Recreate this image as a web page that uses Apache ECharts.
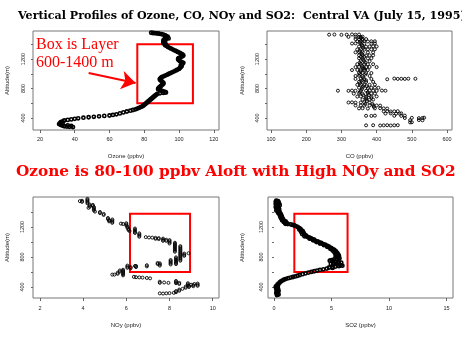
<!DOCTYPE html>
<html>
<head>
<meta charset="utf-8">
<script src="https://cdn.jsdelivr.net/npm/echarts@6/dist/echarts.min.js"></script>
<style>
  html, body { margin: 0; padding: 0; background: #fff; }
  #chart { width: 462px; height: 346px; }
</style>
</head>
<body>
<div id="chart"></div>
<script>
// texts
const mainTitle = 'Vertical Profiles of Ozone, CO, NOy and SO2:  Central VA (July 15, 1995)'
const headline = 'Ozone is 80-100 ppbv Aloft with High NOy and SO2'
const boxNote = 'Box is Layer\n600-1400 m'
const altName = 'Altitude(m)'
const xNames = ['Ozone (ppbv)', 'CO (ppbv)', 'NOy (ppbv)', 'SO2 (ppbv)']

// tick labels
const ozoneTicks = [20, 40, 60, 80, 100, 120]
const coTicks = [100, 200, 300, 400, 500, 600]
const noyTicks = [2, 4, 6, 8, 10]
const so2Ticks = [0, 5, 10, 15]
const altLabels = [400, 800, 1200]
const altTicks = [400, 600, 800, 1000, 1200, 1400]

// [ozone ppbv, altitude m]
const ozoneData = [
  [84,1556],[85,1553],[86,1551],[87,1549],[88,1546],[89,1542],[90,1537],[91,1530],[92,1522],[92.5,1512],
  [93.5,1503],[92,1494],[93,1486],[94,1479],[92.5,1471],[91.5,1463],[91,1454],[91.5,1444],[92,1434],[91,1425],
  [91,1415],[92,1405],[92.5,1395],[92,1385],[93,1375],[93.5,1365],[94.5,1352],[95.5,1340],[96.5,1328],[97.5,1316],
  [98.5,1305],[99.5,1293],[100.5,1282],[101.5,1271],[102,1260],[102.5,1248],[102,1237],[101,1226],[100,1215],[99.5,1204],
  [99.5,1193],[100,1182],[100.5,1171],[101.5,1160],[102.5,1148],[102,1137],[101.5,1126],[101,1114],[101.5,1102],[101,1090],
  [100.5,1078],[100,1066],[99,1054],[98,1042],[97,1030],[96,1019],[95,1008],[94,997],[93,986],[92,975],
  [91,964],[90,953],[89.5,942],[89,931],[89,920],[89.5,909],[90,898],[90.5,887],[91,876],[91,865],
  [90.5,854],[90,843],[89.5,832],[89,821],[88.5,810],[88,799],[88,788],[89,778],[90,770],[91,762],
  [92,754],[92.5,746],[91,740],[89,735],[87.5,728],[87,718],[86.5,708],[86,698],[85.5,688],[85,678],
  [84.5,668],[84,658],[83.5,648],[83,638],[82.5,628],[82,618],[81.5,608],[81,598],[80.5,588],[80,578],
  [79.5,568],[79,558],[78,548],[77,538],[76,528],[75,518],[73.5,508],[72,499],[70,488],[68,476],
  [66,462],[64,450],[62,441],[60,434],[57,428],[54,422],[51,416],[48,410],[45,404],[42,396],
  [40,388],[38,381],[36,374],[34,366],[33,355],[32,343],[31.5,330],[31,318],[32,306],[33,296],
  [34,288],[35.5,283],[37,280],[39,277],[36,300],[38,292],[33,322]
]

// [CO ppbv, altitude m]
const coData = [
  [265,1530],[280,1532],[300,1528],[315,1530],[330,1533],[340,1530],[350,1532],
  [320,1500],[340,1502],[350,1498],[355,1500],[360,1503],
  [340,1470],[350,1468],[360,1472],[370,1470],
  [345,1440],[355,1440],[365,1442],[375,1438],[385,1440],[395,1440],
  [330,1410],[340,1412],[355,1410],[365,1408],[385,1410],[395,1412],
  [350,1370],[360,1372],[370,1368],[380,1370],[390,1372],[400,1370],
  [345,1330],[355,1332],[365,1328],[375,1330],[385,1330],[395,1332],
  [340,1290],[350,1292],[360,1288],[375,1290],[390,1290],
  [350,1250],[360,1252],[370,1248],[380,1250],[390,1250],
  [350,1210],[360,1212],[375,1208],[385,1210],
  [355,1170],[365,1172],[380,1170],
  [345,1130],[355,1132],[365,1128],[375,1130],[390,1130],
  [340,1090],[350,1092],[360,1088],[370,1090],[380,1092],[400,1090],
  [330,1050],[345,1052],[355,1048],[365,1050],[375,1050],
  [350,1010],[360,1012],[370,1008],[385,1010],
  [340,970],[350,972],[360,968],[380,970],
  [340,930],[355,932],[365,928],[385,930],[430,925],[450,935],[460,930],[470,932],[480,930],[490,933],[510,932],
  [350,890],[360,892],[370,888],[390,890],
  [345,850],[355,852],[365,848],[380,850],[395,852],
  [350,810],[360,812],[375,808],[385,810],[395,812],[405,810],
  [290,770],[320,768],[330,772],[340,770],[355,768],[370,770],[380,772],[390,770],[400,768],[415,772],[425,770],
  [335,730],[350,732],[360,728],[375,730],[385,732],[395,730],
  [345,690],[355,692],[370,688],[385,690],[400,692],
  [360,650],[370,652],[380,648],[390,650],
  [320,610],[330,612],[340,608],[355,610],[365,612],[380,610],
  [340,570],[355,572],[365,568],[380,570],[390,572],[400,570],[410,568],
  [350,530],[360,532],[375,528],[395,530],[410,532],[420,530],[430,528],
  [420,490],[430,492],[440,488],[450,490],[460,492],
  [425,460],[440,462],[455,458],[465,460],[470,462],
  [370,430],[385,428],[395,432],[450,430],[470,428],[480,432],
  [480,400],[500,402],[520,398],[530,400],[535,404],
  [495,370],[520,372],[530,368],
  [495,340],[500,342],
  [370,300],[390,302],[410,298],[420,300],[430,302],[440,298],[450,300],[460,302],
  // dense core column
  [355,1485],[360,1455],[352,1425],[358,1390],[362,1350],[352,1310],[358,1270],[355,1230],[362,1190],[352,1150],
  [358,1110],[362,1070],[355,1030],[352,990],[362,950],[358,910],[352,870],[362,830],[358,790],[352,750],
  [362,710],[370,670],[372,630],[368,590],[365,1230],[368,1150],[365,1070],[368,990],[370,910],[372,830],
  [375,750],[378,710],[385,670],[388,590],[392,550]
]

// [NOy ppbv, altitude m]
const noyData = [
  [3.85,1545],[3.95,1550],[3.95,1535],
  [4.2,1575],[4.2,1560],[4.2,1545],[4.2,1530],[4.2,1515],[4.3,1500],[4.3,1485],[4.3,1470],[4.25,1455],
  [4.45,1495],[4.45,1480],[4.5,1465],[4.5,1450],[4.5,1435],[4.5,1420],[4.55,1405],
  [4.78,1400],[4.78,1385],[4.95,1375],[4.95,1360],
  [5.15,1320],[5.15,1305],[5.2,1290],[5.2,1275],[5.35,1300],[5.35,1285],[5.35,1270],[5.35,1255],
  [5.75,1245],[5.85,1240],[6.0,1250],[6.0,1235],[6.0,1220],[6.05,1205],[6.05,1190],[6.1,1175],[6.1,1160],[6.15,1145],
  [6.4,1180],[6.4,1165],[6.4,1150],[6.4,1135],[6.4,1120],
  [6.6,1115],[6.6,1100],[6.6,1085],[6.6,1070],
  [6.9,1065],[7.05,1060],[7.2,1058],[7.35,1055],[7.35,1042],[7.5,1052],[7.5,1038],
  [7.7,1045],[7.7,1030],[7.7,1015],[7.85,1030],[7.85,1015],[8.0,1025],[8.0,1010],[8.0,995],[8.0,980],
  [8.25,990],[8.25,975],[8.25,960],[8.25,945],[8.25,930],[8.25,915],[8.25,900],[8.25,885],[8.25,870],
  [8.5,945],[8.5,930],[8.5,915],[8.5,900],[8.5,885],[8.5,870],[8.5,855],[8.5,840],[8.5,825],
  [8.5,810],[8.5,795],[8.5,780],[8.5,765],[8.5,750],
  [8.68,845],[8.68,830],[8.68,815],[8.88,850],
  [8.3,795],[8.3,780],[8.3,765],[8.3,750],[8.3,735],[8.3,720],[8.3,705],
  [8.05,760],[8.05,745],[8.05,730],[8.05,715],[8.05,700],
  [7.45,720],[7.45,705],[7.55,715],[7.55,700],[7.55,685],
  [6.95,690],[6.95,675],
  [6.4,680],[6.45,680],[6.45,665],
  [6.05,685],[6.05,670],[6.05,655],[6.2,665],[6.2,650],
  [5.85,630],[5.85,615],[5.85,600],[5.85,585],[5.85,570],[5.85,555],[5.7,620],[5.7,605],[5.6,590],[5.6,575],
  [5.45,565],[5.35,565],
  [6.35,535],[6.45,530],[6.6,528],[6.75,525],[6.95,520],[7.1,515],
  [7.55,470],[7.55,455],[7.75,460],[7.95,455],
  [8.3,480],[8.3,465],[8.3,450],[8.45,455],[8.45,440],
  [8.85,450],[8.85,435],[8.85,420],[9.0,430],[9.15,440],[9.3,445],[9.3,430],
  [7.55,315],[7.7,312],[7.85,315],[8.0,318],[8.2,322],[8.3,330],[8.3,345],[8.45,350],[8.45,365],
  [8.6,375],[8.75,390],[8.75,405],[8.9,415],[8.9,400],[9.1,425],[9.1,410],[9.3,415]
]

// [SO2 ppbv, altitude m]
const so2Data = [
  [0.2,1550],[0.35,1545],[0.15,1535],[0.4,1530],[0.25,1520],[0.45,1512],[0.15,1505],[0.3,1498],[0.5,1490],[0.2,1482],
  [0.35,1474],[0.15,1465],[0.4,1458],[0.25,1450],[0.45,1440],[0.3,1430],[0.2,1420],[0.4,1410],[0.5,1400],[0.35,1390],
  [0.45,1380],[0.6,1370],[0.5,1360],[0.65,1350],[0.55,1340],[0.7,1330],[0.6,1320],[0.75,1310],[0.8,1300],[0.7,1290],
  [0.9,1282],[1.0,1275],[0.85,1268],[1.05,1262],[0.95,1255],[1.1,1250],[1.0,1243],[1.2,1240],
  [1.45,1235],[1.6,1228],[1.75,1222],[1.85,1215],[2.0,1205],[2.1,1195],[2.2,1185],[2.3,1175],[2.2,1165],[2.4,1155],
  [2.5,1145],[2.35,1135],[2.55,1125],[2.6,1115],[2.45,1105],[2.7,1095],[2.8,1085],[2.65,1075],[2.9,1068],[3.05,1060],
  [3.2,1052],[3.1,1044],[3.35,1038],[3.5,1030],[3.4,1022],[3.6,1015],[3.8,1008],[3.7,1000],[3.95,994],[4.1,987],
  [4.0,980],[4.25,973],[4.45,966],[4.35,958],[4.6,950],[4.75,942],[4.65,934],[4.9,926],[5.0,918],[4.9,910],
  [5.15,902],[5.25,894],[5.1,886],[5.35,878],[5.4,870],[5.25,862],[5.5,854],[5.5,846],[5.35,838],[5.6,830],
  [5.45,822],[5.65,814],[5.5,806],[5.35,798],[5.6,790],[5.7,782],[5.45,774],[5.2,766],[5.0,758],[4.85,750],
  [5.1,744],[5.4,738],[5.65,732],[5.85,726],[5.55,720],[5.25,714],[4.95,708],[5.15,702],[5.5,696],[5.8,690],
  [5.95,684],[5.65,678],[5.35,672],[5.05,666],[4.8,660],[5.1,654],[4.6,645],[4.3,636],[4.0,627],[3.75,619],
  [3.5,610],[3.25,601],[3.0,592],[2.75,582],[2.5,571],[2.25,560],[2.05,550],[1.85,541],[1.65,533],[1.45,525],
  [1.25,517],[1.05,509],[0.9,500],[0.75,488],[0.6,474],[0.5,460],[0.4,445],[0.3,430],[0.35,420],[0.2,410],
  [0.15,400],[0.25,390],[0.35,380],[0.2,370],[0.3,360],[0.4,350],[0.25,340],[0.35,330],[0.2,320],[0.3,310],
  [0.4,300],[0.25,292]
]

// red layer boxes [xmin, xmax, altTop, altBottom]
const ozoneBox = [76, 108, 1400, 600]
const noyBox = [6.17, 8.95, 1375, 600]
const so2Box = [1.77, 6.4, 1375, 600]
// arrow from note to ozone box [ozone, alt]
const arrowFrom = [48, 1010]
const arrowTo = [75, 875]

const chart = echarts.init(document.getElementById('chart'))

const tickFont = { fontSize: 5.5, color: '#222', fontFamily: 'Liberation Sans' }
const nameFont = { fontSize: 6, color: '#222', fontFamily: 'Liberation Sans' }
const plain = v => String(v)

function xAxisOf(i, name, min, max, ticks, gap, margin) {
  return {
    gridIndex: i, type: 'value', min, max, name, nameLocation: 'middle', nameGap: gap,
    nameTextStyle: nameFont,
    axisLine: { show: false },
    splitLine: { show: false },
    axisTick: { show: true, length: 3, lineStyle: { color: '#666' }, customValues: ticks },
    axisLabel: { ...tickFont, margin, customValues: ticks, formatter: plain }
  }
}

function yAxisOf(i, min, max, gap, margin) {
  return {
    gridIndex: i, type: 'value', min, max, name: altName, nameLocation: 'middle', nameGap: gap,
    nameTextStyle: nameFont,
    axisLine: { show: false },
    splitLine: { show: false },
    axisTick: { show: true, length: 2, lineStyle: { color: '#666' }, customValues: altTicks },
    axisLabel: { ...tickFont, rotate: 90, margin, customValues: altLabels, formatter: plain }
  }
}

function boxArea(b) {
  return {
    silent: true,
    itemStyle: { color: 'rgba(0,0,0,0)', borderColor: '#ff0000', borderWidth: 2 },
    data: [[{ coord: [b[0], b[2]] }, { coord: [b[1], b[3]] }]]
  }
}

// thick traces (ozone, so2) vs. sparse "o" points (co, noy)
const trace = {
  type: 'scatter', symbol: 'circle', symbolSize: 3.2, silent: true,
  itemStyle: { color: 'rgba(0,0,0,0)', borderColor: '#000', borderWidth: 1.6, opacity: 1 }
}
const dots = {
  type: 'scatter', symbol: 'circle', symbolSize: 3, silent: true,
  itemStyle: { color: 'rgba(0,0,0,0)', borderColor: '#000', borderWidth: 0.9, opacity: 1 }
}

const gridStyle = { show: true, borderColor: '#777', borderWidth: 1, backgroundColor: 'transparent' }

const option = {
  animation: false,
  title: [
    { text: mainTitle, left: 18, top: 11, padding: 0,
      textStyle: { fontFamily: 'DejaVu Serif', fontWeight: 'bold', fontSize: 11.1, color: '#000' } },
    { text: headline, left: 16, top: 165, padding: 0,
      textStyle: { fontFamily: 'DejaVu Serif', fontWeight: 'bold', fontSize: 15.3, color: '#ff0000' } },
    { text: boxNote, left: 36, top: 36, padding: 0,
      textStyle: { fontFamily: 'Liberation Serif', fontWeight: 'normal', fontSize: 16, lineHeight: 18, color: '#ff0000' } }
  ],
  grid: [
    { left: 33, top: 31, width: 186, height: 99, ...gridStyle },
    { left: 267, top: 31, width: 185, height: 99, ...gridStyle },
    { left: 33, top: 197, width: 186, height: 101, ...gridStyle },
    { left: 268, top: 197, width: 185, height: 101, ...gridStyle }
  ],
  xAxis: [
    xAxisOf(0, xNames[0], 16, 123, ozoneTicks, 23, 6),
    xAxisOf(1, xNames[1], 88.6, 614, coTicks, 23, 6),
    xAxisOf(2, xNames[2], 1.68, 10.29, noyTicks, 24, 7),
    xAxisOf(3, xNames[3], -0.52, 15.57, so2Ticks, 24, 7)
  ],
  yAxis: [
    yAxisOf(0, 237, 1580, 23, 7),
    yAxisOf(1, 237, 1580, 22, 7),
    yAxisOf(2, 253, 1600, 23, 8),
    yAxisOf(3, 253, 1600, 23, 4)
  ],
  series: [
    { ...trace, xAxisIndex: 0, yAxisIndex: 0, data: ozoneData,
      markArea: boxArea(ozoneBox),
      markLine: {
        silent: true, symbol: ['none', 'arrow'], symbolSize: 14,
        lineStyle: { color: '#ff0000', width: 2, type: 'solid' },
        label: { show: false },
        data: [[{ coord: arrowFrom }, { coord: arrowTo }]]
      } },
    { ...dots, xAxisIndex: 1, yAxisIndex: 1, data: coData },
    { ...dots, xAxisIndex: 2, yAxisIndex: 2, data: noyData, markArea: boxArea(noyBox) },
    { ...trace, xAxisIndex: 3, yAxisIndex: 3, data: so2Data, markArea: boxArea(so2Box) }
  ]
}

chart.setOption(option)
</script>
</body>
</html>
